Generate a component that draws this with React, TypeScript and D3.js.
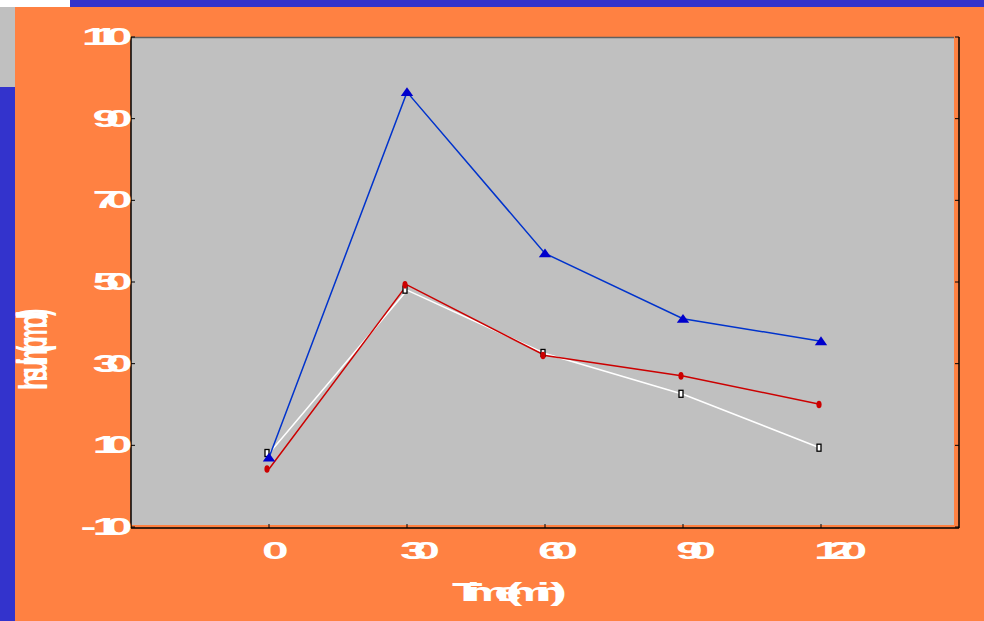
import React from "react";
import * as d3 from "d3";

// Sampling times (min) and insulin readings for the three groups
const times = [0, 30, 60, 90, 120];
const seriesBlue = [7, 96.5, 57, 41, 35.5];
const seriesRed = [4.2, 49.3, 32, 27, 20];
const seriesWhite = [8, 48, 32.5, 22.5, 9.3];

const xTicks = [0, 30, 60, 90, 120];
const yTicks = [-10, 10, 30, 50, 70, 90, 110];
const xTitle = "Time (min)";
const yTitle = "Insulin (pmol/l)";

const W = 984;
const H = 621;
const plot = { left: 131, right: 959, top: 37, bottom: 527 };

const ORANGE = "#ff8142";
const BLUE_BAND = "#3333cc";
const PANEL = "#c0c0c0";
const FONT = "'Liberation Sans', Arial, sans-serif";

export default function App() {
  const x = d3.scaleLinear().domain([-30, 150]).range([plot.left, plot.right]);
  const y = d3.scaleLinear().domain([-10, 110]).range([plot.bottom, plot.top]);

  const line = d3
    .line<number>()
    .x((_, i) => x(times[i]))
    .y((d) => y(d));

  const tri = d3.symbol().type(d3.symbolTriangle).size(55)();

  const labelStyle: React.CSSProperties = {
    fontFamily: FONT,
    fontWeight: "bold",
    fontSize: 24,
    fill: "#ffffff",
  };

  return (
    <svg
      width={W}
      height={H}
      style={{ position: "absolute", left: 0, top: 0, display: "block" }}
    >
      {/* frame */}
      <rect x={0} y={0} width={W} height={H} fill={BLUE_BAND} />
      <rect x={0} y={0} width={70} height={7} fill="#ffffff" />
      <rect x={0} y={7} width={15} height={80} fill={PANEL} />
      <rect x={15} y={7} width={W - 15} height={H - 7} fill={ORANGE} />

      {/* plot panel */}
      <rect
        x={plot.left}
        y={plot.top}
        width={954 - plot.left}
        height={525 - plot.top}
        fill={PANEL}
      />
      <line x1={plot.left} x2={954} y1={plot.top + 0.5} y2={plot.top + 0.5} stroke="#606060" strokeWidth={1.5} />
      <line x1={plot.left} x2={plot.left} y1={plot.top} y2={plot.bottom + 1} stroke="#000" strokeWidth={1.5} />
      <line x1={plot.right} x2={plot.right} y1={plot.top} y2={plot.bottom + 1} stroke="#000" strokeWidth={1.5} />
      <line x1={plot.left} x2={plot.right} y1={plot.bottom + 1} y2={plot.bottom + 1} stroke="#000" strokeWidth={1.5} />

      {/* ticks */}
      {xTicks.map((t) => (
        <line key={`xt${t}`} x1={x(t)} x2={x(t)} y1={plot.bottom + 1} y2={plot.bottom - 3} stroke="#000" strokeWidth={1} />
      ))}
      {yTicks.map((t) => (
        <g key={`yt${t}`}>
          <line x1={plot.left} x2={plot.left + 4} y1={y(t)} y2={y(t)} stroke="#000" strokeWidth={1} />
          <line x1={plot.right} x2={plot.right - 4} y1={y(t)} y2={y(t)} stroke="#000" strokeWidth={1} />
        </g>
      ))}

      {/* tick labels */}
      {yTicks.map((t) => (
        <text
          key={`yl${t}`}
          transform={`translate(${plot.left - 12},${y(t) + 8}) scale(2,1)`}
          textAnchor="end"
          letterSpacing={-6.7}
          style={labelStyle}
        >
          {t < 0 ? (
            <>
              <tspan letterSpacing={-2}>-</tspan>
              <tspan>{Math.abs(t)}</tspan>
            </>
          ) : (
            t
          )}
        </text>
      ))}
      {xTicks.map((t) => (
        <text
          key={`xl${t}`}
          transform={`translate(${x(t) - 7},559) scale(2,1)`}
          textAnchor="start"
          letterSpacing={-6.7}
          style={labelStyle}
        >
          {t}
        </text>
      ))}

      {/* axis titles */}
      <text
        transform="translate(452,601) scale(2,1)"
        textAnchor="start"
        letterSpacing={-7.6}
        style={{ ...labelStyle, fontSize: 25 }}
      >
        {xTitle}
      </text>
      <text
        transform="translate(47,390) rotate(-90) scale(1,1.95)"
        textAnchor="start"
        letterSpacing={-5}
        style={{ ...labelStyle, fontSize: 22 }}
      >
        {yTitle}
      </text>

      {/* series lines */}
      <path d={line(seriesWhite) ?? ""} fill="none" stroke="#ffffff" strokeWidth={1.5} />
      <path d={line(seriesRed) ?? ""} fill="none" stroke="#cc0000" strokeWidth={1.5} />
      <path d={line(seriesBlue) ?? ""} fill="none" stroke="#0033cc" strokeWidth={1.5} />

      {/* markers */}
      {seriesWhite.map((v, i) => (
        <rect
          key={`w${i}`}
          x={x(times[i]) - 4}
          y={y(v) - 4}
          width={4}
          height={7}
          fill="#ffffff"
          stroke="#000"
          strokeWidth={1.3}
        />
      ))}
      {seriesRed.map((v, i) => (
        <ellipse key={`r${i}`} cx={x(times[i]) - 2} cy={y(v)} rx={2.6} ry={3.8} fill="#cc0000" />
      ))}
      {seriesBlue.map((v, i) => (
        <path key={`b${i}`} d={tri ?? ""} transform={`translate(${x(times[i])},${y(v) + 1}) scale(1.1,0.9)`} fill="#0000cc" />
      ))}
    </svg>
  );
}
